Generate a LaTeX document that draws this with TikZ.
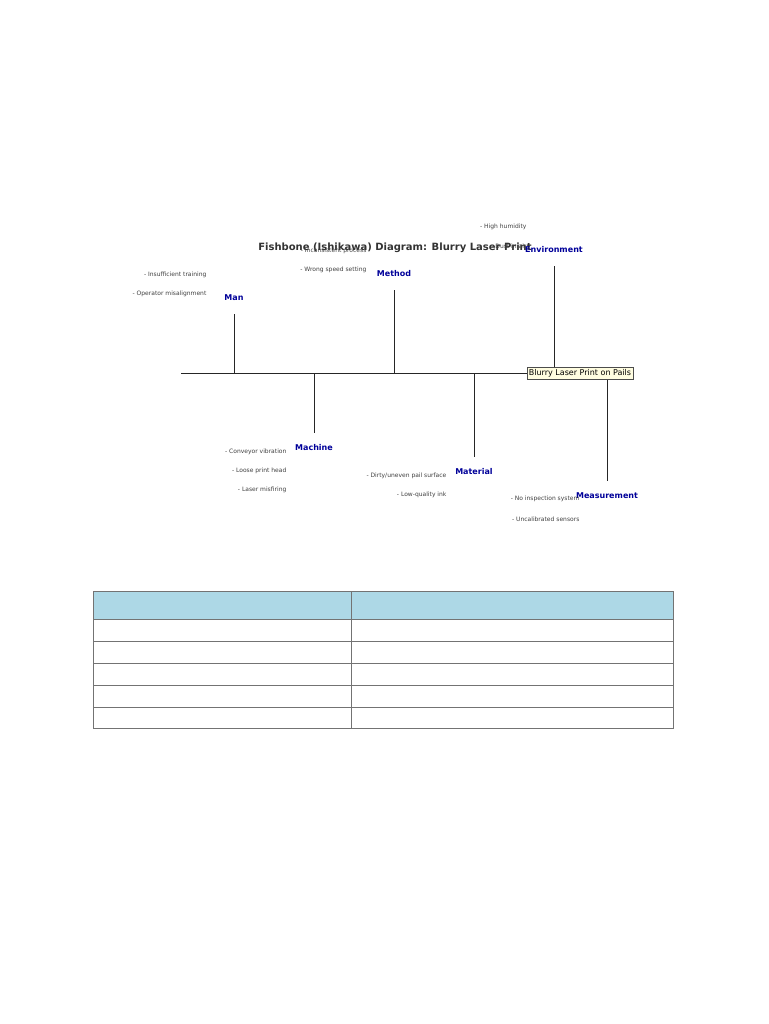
\documentclass[tikz,border=0pt]{standalone}
\usepackage{fontspec}
\setmainfont{DejaVu Sans}
\begin{document}
\begin{tikzpicture}[x=0.75pt,y=-0.75pt,
  cat/.style={font=\fontsize{6}{7}\selectfont\bfseries,text=blue!60!black,inner sep=1pt},
  cause/.style={font=\fontsize{4.5}{5}\selectfont,text=black!75,anchor=east,inner sep=1pt},
  bone/.style={line width=0.6pt,black!85}]
\useasboundingbox (0,0) rectangle (768,1024);
\node[font=\fontsize{7.5}{9}\selectfont\bfseries,text=black!80] (title) at (395,248) {Fishbone (Ishikawa) Diagram: Blurry Laser Print};
\node[draw=black!70,fill=yellow!12,font=\fontsize{6}{7}\selectfont,inner sep=1.5pt] (head) at (580,373) {Blurry Laser Print on Pails};
\coordinate (tail) at (181,373);
\draw[bone] (tail) -- (head.west);
% branches
\coordinate (j1) at (234,373); \coordinate (e1) at (234,314);
\coordinate (j2) at (314,373); \coordinate (e2) at (314,433);
\coordinate (j3) at (394,373); \coordinate (e3) at (394,290);
\coordinate (j4) at (474,373); \coordinate (e4) at (474,457);
\coordinate (j5) at (554,367); \coordinate (e5) at (554,266);
\coordinate (j6) at (607,380); \coordinate (e6) at (607,481);
\foreach \i in {1,...,6} \draw[bone] (j\i) -- (e\i);
\node[cat] (man) at (234,298) {Man};
\node[cat] (machine) at (314,448) {Machine};
\node[cat] (method) at (394,274) {Method};
\node[cat] (material) at (474,472) {Material};
\node[cat] (env) at (554,250) {Environment};
\node[cat] (meas) at (607,496) {Measurement};
\node[cause] at (208,275) {- Insufficient training};
\node[cause] at (208,294) {- Operator misalignment};
\node[cause] at (288,452) {- Conveyor vibration};
\node[cause] at (288,471) {- Loose print head};
\node[cause] at (288,490) {- Laser misfiring};
\node[cause] at (368,251) {- Inconsistent process};
\node[cause] at (368,270) {- Wrong speed setting};
\node[cause] at (448,476) {- Dirty/uneven pail surface};
\node[cause] at (448,495) {- Low-quality ink};
\node[cause] at (528,227) {- High humidity};
\node[cause] at (528,246) {- Dust in air};
\node[cause] at (581,499) {- No inspection system};
\node[cause] at (581,519) {- Uncalibrated sensors};
% table
\fill[cyan!30!blue!8!white,fill=cyan!20] (93,591) rectangle (673,619);
\fill[fill={rgb,255:red,173;green,216;blue,230}] (93,591) rectangle (673,619);
\draw[black!55,line width=0.5pt] (93,591) rectangle (673,728);
\draw[black!55,line width=0.5pt] (351,591) -- (351,728);
\foreach \y in {619,641,663,685,707} \draw[black!55,line width=0.5pt] (93,\y) -- (673,\y);
\end{tikzpicture}
\end{document}
